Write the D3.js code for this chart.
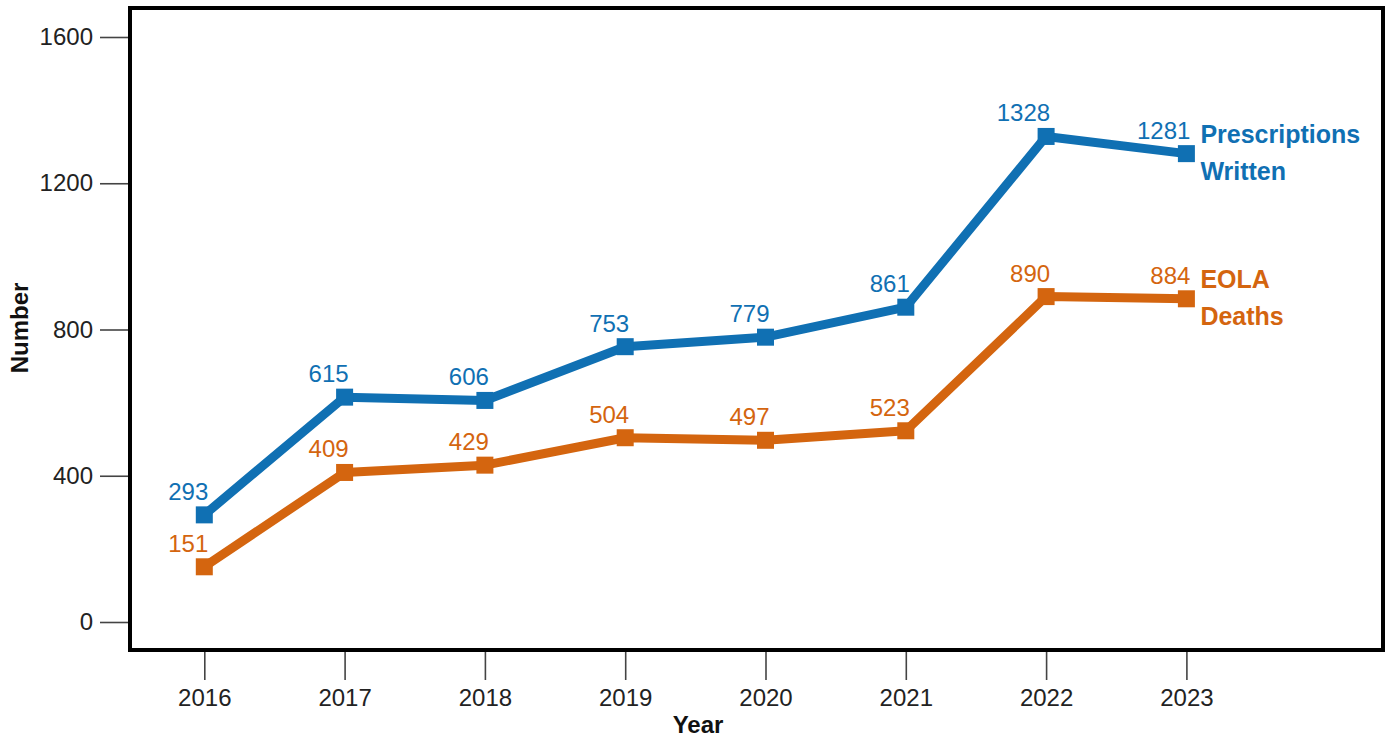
<!DOCTYPE html>
<html lang="en">
<head>
    <meta charset="UTF-8"/>
    <title>EOLA prescriptions and deaths</title>
    <script src="https://d3js.org/d3.v7.min.js"></script>
    <style>
        body, html {
            margin: 0;
            padding: 0;
            background: #fff;
            font-family: "Liberation Sans", Arial, sans-serif;
        }
        svg {
            display: block;
        }
    </style>
</head>
<body>
<svg id="chart" width="1385" height="738"></svg>
<script>
    // data
    const years = [2016, 2017, 2018, 2019, 2020, 2021, 2022, 2023];
    const prescriptions = [293, 615, 606, 753, 779, 861, 1328, 1281];
    const deaths = [151, 409, 429, 504, 497, 523, 890, 884];
    const yTicks = [0, 400, 800, 1200, 1600];

    const series = [
        {name: ["Prescriptions", "Written"], values: prescriptions, color: "#1070b3"},
        {name: ["EOLA", "Deaths"], values: deaths, color: "#d4650f"}
    ];

    const svg = d3.select("#chart");

    // frame of the plot area
    const frame = {left: 130, top: 8, right: 1383, bottom: 650};

    const x = d3.scaleLinear().domain([2016, 2023]).range([204.3, 1186.4]);
    const y = d3.scaleLinear().domain([0, 1600]).range([622, 37]);

    // y axis ticks
    const yAxis = svg.append("g").attr("transform", `translate(${frame.left},0)`)
        .call(d3.axisLeft(y).tickValues(yTicks).tickSize(30).tickPadding(7).tickFormat(d3.format("d")));
    yAxis.select(".domain").remove();
    yAxis.selectAll(".tick line").attr("stroke", "#444").attr("stroke-width", 1.6);
    yAxis.selectAll(".tick text").attr("fill", "#222").attr("font-size", 24)
        .attr("font-family", "'Liberation Sans', Arial, sans-serif");

    // x axis ticks
    const xAxis = svg.append("g").attr("transform", `translate(0,${frame.bottom})`)
        .call(d3.axisBottom(x).tickValues(years).tickSize(30).tickPadding(9).tickFormat(d3.format("d")));
    xAxis.select(".domain").remove();
    xAxis.selectAll(".tick line").attr("stroke", "#444").attr("stroke-width", 1.6);
    xAxis.selectAll(".tick text").attr("fill", "#222").attr("font-size", 24)
        .attr("font-family", "'Liberation Sans', Arial, sans-serif");

    svg.append("rect")
        .attr("x", frame.left)
        .attr("y", frame.top)
        .attr("width", frame.right - frame.left)
        .attr("height", frame.bottom - frame.top)
        .attr("fill", "none")
        .attr("stroke", "#000")
        .attr("stroke-width", 4);

    // axis titles
    svg.append("text")
        .attr("x", 698).attr("y", 733)
        .attr("text-anchor", "middle")
        .attr("font-size", 24).attr("font-weight", "bold").attr("fill", "#111")
        .text("Year");
    svg.append("text")
        .attr("transform", "translate(28,328) rotate(-90)")
        .attr("text-anchor", "middle")
        .attr("font-size", 24).attr("font-weight", "bold").attr("fill", "#111")
        .text("Number");

    const line = d3.line()
        .x((d, i) => x(years[i]))
        .y(d => y(d));

    const markerSize = 17;

    series.forEach(s => {
        const g = svg.append("g");
        g.append("path")
            .datum(s.values)
            .attr("fill", "none")
            .attr("stroke", s.color)
            .attr("stroke-width", 9)
            .attr("stroke-linejoin", "round")
            .attr("d", line);

        g.selectAll("rect")
            .data(s.values)
            .enter()
            .append("rect")
            .attr("x", (d, i) => x(years[i]) - markerSize / 2)
            .attr("y", d => y(d) - markerSize / 2)
            .attr("width", markerSize)
            .attr("height", markerSize)
            .attr("fill", s.color);

        g.selectAll("text.value")
            .data(s.values)
            .enter()
            .append("text")
            .attr("class", "value")
            .attr("x", (d, i) => x(years[i]) + 4)
            .attr("y", d => y(d) - 15)
            .attr("text-anchor", "end")
            .attr("font-size", 24)
            .attr("fill", s.color)
            .text(d => d);

        // series label next to last point
        const last = s.values[s.values.length - 1];
        const lbl = g.append("text")
            .attr("x", x(years[years.length - 1]) + 14)
            .attr("y", y(last) - 11)
            .attr("font-size", 25)
            .attr("font-weight", "bold")
            .attr("fill", s.color);
        s.name.forEach((t, i) => {
            lbl.append("tspan")
                .attr("x", x(years[years.length - 1]) + 14)
                .attr("dy", i === 0 ? 0 : 37.5)
                .text(t);
        });
    });
</script>
</body>
</html>
